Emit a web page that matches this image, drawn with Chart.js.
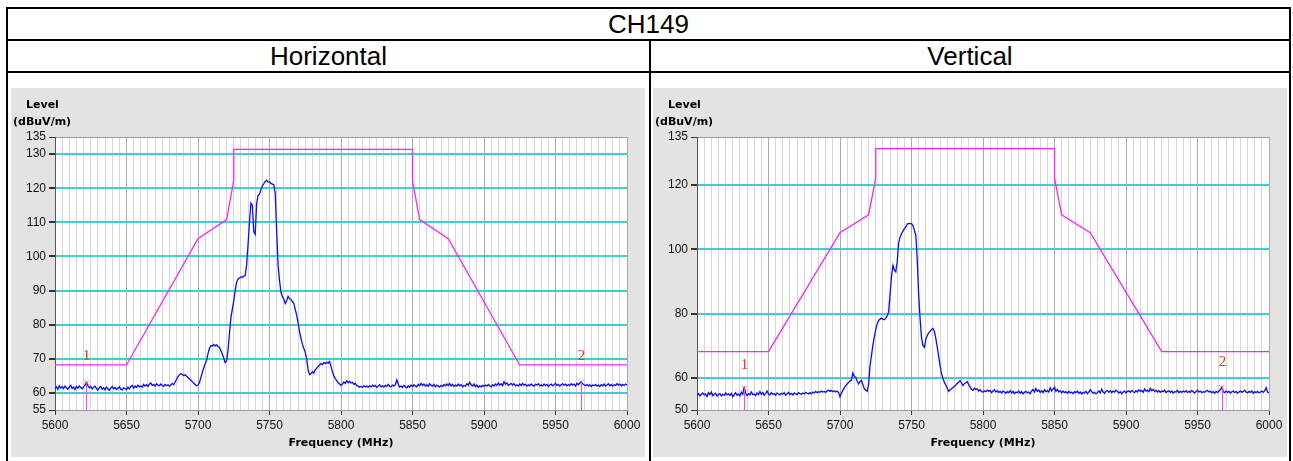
<!DOCTYPE html>
<html>
<head>
<meta charset="utf-8">
<script src="https://cdn.jsdelivr.net/npm/chart.js@4.4.1/dist/chart.umd.min.js"></script>
<style>
  body { margin: 0; background: #fff; width: 1293px; height: 461px; overflow: hidden; position: relative;
         font-family: "Liberation Sans", Arial, sans-serif; }
  .rule { position: absolute; background: #000; }
  .head { position: absolute; text-align: center; font-size: 26px; line-height: 30px; color: #000; }
  canvas { position: absolute; }
</style>
</head>
<body>
<div class="rule" style="left:6px;top:7px;width:1285px;height:2px"></div>
<div class="rule" style="left:6px;top:7px;width:2px;height:454px"></div>
<div class="rule" style="left:1289px;top:7px;width:2px;height:454px"></div>
<div class="rule" style="left:6px;top:39px;width:1285px;height:2px"></div>
<div class="rule" style="left:6px;top:71px;width:1285px;height:2px"></div>
<div class="rule" style="left:649px;top:39px;width:2px;height:422px"></div>
<div class="head" style="left:8px;top:9px;width:1281px">CH149</div>
<div class="head" style="left:8px;top:41px;width:641px">Horizontal</div>
<div class="head" style="left:651px;top:41px;width:638px">Vertical</div>
<canvas id="chartH" width="634" height="369" style="left:11px;top:88px"></canvas>
<canvas id="chartV" width="634" height="369" style="left:653px;top:88px"></canvas>
<script>
// Sweep: 5600 - 6000 MHz in 1 MHz steps
const sweepStart = 5600;
const sweepStep = 1;

// Measured level, horizontal antenna (dBuV/m)
const levelsH = [
  61.2, 61.8, 61.0, 62.1, 61.4, 61.9, 61.3, 62.0, 61.5, 61.1, 61.8, 62.2, 61.3, 61.7, 61.0, 61.9, 61.4, 62.0, 61.6, 61.2,
  61.8, 62.3, 63.0, 62.1, 61.5, 61.9, 61.2, 61.7, 62.0, 61.3, 60.8, 61.6, 61.9, 61.1, 61.5, 60.9, 61.7, 61.2, 60.8, 61.5,
  61.9, 61.2, 61.6, 61.0, 61.4, 61.8, 61.1, 60.9, 61.5, 61.3, 61.0, 61.7, 61.2, 61.9, 62.2, 61.4, 62.0, 61.6, 62.3, 61.8,
  62.1, 61.7, 62.5, 62.0, 62.4, 61.9, 62.6, 62.9, 62.2, 62.5, 62.0, 62.7, 62.3, 62.1, 62.6, 62.2, 61.9, 62.5, 62.1, 62.4,
  62.0, 62.3, 62.8, 62.4, 63.2, 64.0, 64.8, 65.3, 65.7, 65.4, 65.1, 65.3, 64.9, 64.5, 64.1, 63.8, 63.3, 62.9, 62.5, 62.1,
  62.3, 63.0, 64.5, 66.0, 67.3, 68.5, 69.6, 71.5, 73.0, 73.9, 73.7, 74.2, 73.8, 74.1, 73.6, 73.3, 72.4, 71.4, 70.2, 68.9,
  69.5, 72.5, 77.5, 82.0, 84.5, 87.0, 90.0, 92.4, 93.4, 93.7, 94.0, 93.9, 94.2, 94.4, 97.5, 103.5, 110.0, 115.6, 115.0, 107.2,
  106.5, 115.4, 117.9, 118.2, 119.5, 120.7, 121.3, 122.0, 122.3, 121.8, 121.9, 121.4, 121.2, 121.0, 118.5, 107.6, 97.5, 93.0, 89.5, 88.2,
  87.5, 86.2, 87.0, 88.3, 87.6, 87.4, 86.8, 86.3, 84.5, 82.8, 80.5, 78.0, 76.0, 74.3, 73.0, 71.9, 70.0, 66.8, 65.4, 65.6,
  66.2, 65.8, 66.8, 67.2, 67.8, 68.2, 68.6, 68.3, 68.9, 68.6, 69.0, 68.7, 69.2, 67.8, 66.2, 65.0, 64.2, 63.6, 63.0, 62.6,
  62.2, 62.6, 63.2, 62.8, 63.6, 63.0, 63.4, 62.9, 63.1, 62.5, 62.8, 62.2, 62.0, 61.7, 61.9, 61.6, 62.1, 61.8, 62.0, 61.7,
  62.1, 61.8, 62.3, 61.9, 62.2, 61.6, 62.0, 62.4, 61.8, 62.1, 61.7, 62.2, 61.9, 62.5, 62.0, 61.8, 62.3, 62.0, 62.4, 63.8,
  62.6, 61.7, 62.0, 61.6, 62.2, 61.8, 61.5, 62.1, 61.7, 62.3, 61.9, 62.4, 62.0, 61.8, 62.5, 62.1, 62.8, 62.2, 62.6, 62.0,
  62.4, 61.9, 62.7, 62.2, 62.0, 62.5, 61.8, 62.3, 62.0, 61.7, 62.2, 61.9, 62.4, 62.1, 62.6, 62.2, 62.8, 62.0, 62.5, 61.9,
  62.3, 62.0, 62.6, 62.1, 62.4, 61.8, 62.2, 62.0, 62.7, 62.3, 63.1, 62.4, 62.0, 62.6, 61.9, 62.3, 61.6, 62.1, 61.8, 62.2,
  61.9, 62.3, 62.0, 62.5, 62.1, 61.8, 62.4, 62.0, 62.6, 62.2, 62.9, 62.3, 62.7, 62.1, 63.3, 62.6, 62.9, 62.2, 62.5, 62.8,
  62.3, 62.7, 62.1, 62.4, 62.0, 62.6, 62.2, 62.8, 62.3, 62.5, 62.0, 62.4, 62.1, 62.6, 62.2, 62.0, 62.5, 62.3, 62.7, 62.1,
  62.4, 62.0, 62.6, 62.2, 62.5, 61.9, 62.3, 62.6, 62.1, 62.4, 62.8, 62.2, 62.5, 62.0, 62.4, 62.7, 62.3, 62.6, 62.1, 62.4,
  62.2, 62.7, 62.3, 62.6, 62.0, 62.8, 62.4, 62.9, 63.2, 62.7, 62.4, 62.1, 62.5, 62.0, 62.4, 61.9, 62.3, 62.1, 62.5, 62.0,
  62.3, 61.9, 62.4, 62.1, 62.6, 62.0, 62.3, 62.7, 62.1, 62.5, 62.0, 62.4, 62.2, 62.7, 62.3, 62.6, 62.1, 62.5, 62.2, 62.6,
  62.3
];

// Measured level, vertical antenna (dBuV/m)
const levelsV = [
  54.6, 55.1, 54.4, 54.9, 55.3, 54.7, 55.0, 54.2, 55.4, 54.8, 55.6, 54.5, 54.9, 55.2, 54.3, 54.8, 55.1, 54.4, 54.9, 54.6,
  55.3, 54.7, 55.0, 54.5, 55.2, 54.1, 54.8, 55.4, 54.6, 55.0, 54.4, 55.5, 54.9, 56.8, 55.2, 54.5, 55.1, 54.7, 55.6, 54.8,
  55.0, 54.5, 55.3, 54.8, 55.7, 54.9, 55.4, 54.6, 55.2, 55.9, 55.0, 54.7, 55.4, 54.9, 55.1, 54.6, 55.3, 55.0, 54.7, 55.2,
  54.9, 55.4, 54.6, 55.1, 55.5, 54.8, 55.2, 54.7, 55.3, 55.0, 54.8, 55.4, 55.1, 54.9, 55.3, 55.0, 55.5, 55.2, 55.0, 55.4,
  55.1, 55.6, 55.3, 55.8, 55.4, 55.7, 55.5, 55.9, 55.6, 55.8, 55.5, 55.9, 56.2, 55.8, 56.1, 55.7, 56.0, 55.6, 55.9, 55.4,
  54.1, 55.2, 56.1, 56.9, 57.6, 58.1, 58.6, 59.0, 59.3, 61.5, 60.4, 60.2, 59.0, 58.1, 58.8, 59.2, 57.9, 56.6, 56.2, 55.8,
  58.0, 63.8, 67.0, 70.2, 72.8, 75.0, 76.8, 77.9, 78.3, 78.6, 78.3, 78.1, 78.6, 79.3, 80.5, 86.0, 91.5, 95.0, 93.6, 93.0,
  96.0, 102.0, 103.8, 104.9, 105.7, 106.4, 107.0, 107.9, 108.1, 108.0, 108.0, 107.4, 106.0, 104.5, 97.0, 86.0, 78.5, 72.5, 70.0, 69.5,
  72.0, 73.2, 74.0, 74.5, 75.1, 75.4, 74.5, 72.3, 69.6, 66.6, 63.8, 61.3, 59.8, 58.6, 57.8, 56.8, 55.8, 56.3, 56.6, 56.9,
  57.4, 57.8, 58.3, 58.6, 59.2, 58.4, 57.6, 58.2, 58.5, 58.8, 57.9, 57.2, 56.4, 56.1, 56.8, 56.4, 56.6, 55.9, 56.3, 55.7,
  55.6, 56.0, 55.7, 56.2, 55.8, 56.1, 55.4, 55.9, 56.3, 55.6, 56.0, 55.5, 55.8, 55.3, 55.9, 55.6, 55.2, 55.7, 55.4, 56.0,
  55.3, 55.8, 55.1, 55.6, 55.4, 55.9, 55.2, 55.7, 55.0, 55.5, 55.8, 55.3, 55.6, 55.1, 55.9, 56.4, 55.6, 56.7, 55.8, 56.2,
  55.5, 56.0, 55.4, 56.3, 55.7, 56.1, 55.6, 56.9, 55.9, 56.5, 57.1, 55.8, 56.4, 55.6, 56.0, 55.3, 55.9, 55.4, 55.7, 55.2,
  55.8, 55.3, 55.6, 55.1, 55.7, 55.4, 55.9, 55.2, 55.6, 55.0, 55.5, 55.3, 55.8, 55.1, 55.6, 56.3, 55.7, 55.2, 55.5, 55.0,
  55.4, 55.9, 55.3, 56.5, 55.6, 55.2, 55.8, 56.1, 55.5, 56.0, 55.4, 55.9, 55.6, 56.2, 55.8, 55.3, 55.7, 55.1, 55.6, 55.9,
  55.3, 55.8, 56.0, 55.5, 56.1, 55.7, 55.4, 56.0, 55.6, 56.3, 55.8, 56.1, 55.5, 56.6, 55.9, 56.2, 55.7, 56.8, 56.0, 56.4,
  55.8, 56.1, 55.6, 56.0, 55.5, 55.9, 55.7, 56.2, 55.4, 55.8, 56.0, 55.5, 55.9, 55.3, 55.7, 55.6, 56.1, 55.4, 55.8, 55.5,
  55.9, 55.6, 56.0, 55.4, 55.8, 55.5, 56.1, 55.7, 55.3, 55.8, 56.2, 55.6, 55.9, 55.4, 55.7, 55.5, 55.9, 56.1, 55.6, 55.8,
  55.4, 55.7, 55.2, 55.8, 55.5, 55.9, 56.3, 57.0, 55.7, 55.4, 55.9, 55.5, 55.8, 55.3, 55.7, 55.9, 55.4, 55.8, 55.2, 55.6,
  55.9, 55.5, 55.8, 56.2, 55.6, 55.3, 55.8, 55.5, 55.9, 55.2, 55.7, 55.4, 55.8, 55.3, 55.6, 55.9, 55.5, 56.0, 57.0, 55.6,
  55.3
];

// Emission mask corner points
const limitFreqs  = [5600, 5650, 5700, 5720, 5725, 5725, 5850, 5850, 5855, 5875, 5925, 6000];
const limitLevels = [68.2, 68.2, 105.2, 110.8, 122.2, 131.4, 131.4, 122.2, 110.8, 105.2, 68.2, 68.2];

// Markers (frequency in MHz) and where their numbers sit (dBuV/m)
const markerNames = ['1', '2'];
const markerFreqsH = [5622, 5968];
const markerFreqsV = [5633, 5967];
const markerTextLevelsH = [70.8, 70.9];
const markerTextLevelsV = [64.0, 65.0];

// Axis ticks
const freqTickLabels = ['5600', '5650', '5700', '5750', '5800', '5850', '5900', '5950', '6000'];
const levelTicksH = [55, 60, 70, 80, 90, 100, 110, 120, 130, 135];
const levelTicksV = [50, 60, 80, 100, 120, 135];

const FONT_UI = '"DejaVu Sans", Verdana, sans-serif';
const FONT_TICK = '"Liberation Sans", Arial, sans-serif';
const CYAN = '#3fcfcf';

function overlay(markerFreqs, levels, textLevels) {
  return {
    id: 'overlay',
    beforeDraw(chart) {
      const { ctx, chartArea: a } = chart;
      ctx.save();
      ctx.fillStyle = '#e3e3e3';
      ctx.fillRect(0, 0, chart.width, chart.height);
      ctx.fillStyle = '#ffffff';
      ctx.fillRect(a.left, a.top, a.right - a.left, a.bottom - a.top);
      ctx.fillStyle = '#000';
      ctx.font = 'bold 11px ' + FONT_UI;
      ctx.textAlign = 'left';
      ctx.textBaseline = 'middle';
      ctx.fillText('Level', 15, 17);
      ctx.fillText('(dBuV/m)', 2, 34);
      ctx.restore();
    },
    afterDatasetsDraw(chart) {
      const { ctx, chartArea: a, scales } = chart;
      ctx.save();
      markerFreqs.forEach((f, i) => {
        const px = Math.round(scales.x.getPixelForValue(f)) + 0.5;
        const lv = levels[Math.round((f - sweepStart) / sweepStep)];
        ctx.strokeStyle = '#ff40ff';
        ctx.lineWidth = 1;
        ctx.beginPath();
        ctx.moveTo(px, scales.y.getPixelForValue(lv));
        ctx.lineTo(px, a.bottom);
        ctx.stroke();
        ctx.fillStyle = '#ff2222';
        ctx.font = '15px "Liberation Serif", "Times New Roman", serif';
        ctx.textAlign = 'center';
        ctx.textBaseline = 'middle';
        ctx.fillText(markerNames[i], px, scales.y.getPixelForValue(textLevels[i]));
      });
      ctx.restore();
    }
  };
}

function spectrumChart(canvasId, levels, levelTicks, markerFreqs, textLevels) {
  const trace = levels.map((v, i) => ({ x: sweepStart + i * sweepStep, y: v }));
  const mask = limitFreqs.map((f, i) => ({ x: f, y: limitLevels[i] }));
  const marks = markerFreqs.map(f => ({ x: f, y: levels[Math.round((f - sweepStart) / sweepStep)] }));
  const yMin = levelTicks[0];
  const yMax = levelTicks[levelTicks.length - 1];

  return new Chart(document.getElementById(canvasId), {
    type: 'line',
    data: {
      datasets: [
        { data: mask, borderColor: '#ff22ff', borderWidth: 1.3, pointRadius: 0, tension: 0 },
        { data: trace, borderColor: '#0a0aff', borderWidth: 1.3, pointRadius: 0, tension: 0 },
        { data: marks, showLine: false, pointStyle: 'crossRot', pointRadius: 3.5,
          borderColor: '#ff66dd', borderWidth: 1, backgroundColor: '#ff66dd' }
      ]
    },
    options: {
      responsive: false,
      devicePixelRatio: 1,
      animation: false,
      events: [],
      layout: { padding: { top: 49, right: 18, left: 0, bottom: 0 } },
      plugins: { legend: { display: false }, tooltip: { enabled: false } },
      scales: {
        x: {
          type: 'linear',
          min: 5600,
          max: 6000,
          afterBuildTicks(scale) {
            const t = [];
            for (let f = scale.min; f <= scale.max; f += 5) t.push({ value: f });
            scale.ticks = t;
          },
          afterFit(scale) { scale.height = 47; },
          ticks: {
            autoSkip: false,
            maxRotation: 0,
            minRotation: 0,
            padding: 3,
            color: '#111',
            font: { family: FONT_TICK, size: 12 },
            callback(value) {
              const s = String(value);
              return freqTickLabels.includes(s) ? s : '';
            }
          },
          grid: {
            color: c => (c.tick && c.tick.value % 50 === 0) ? '#aaaaaa' : '#d6d6d6',
            tickColor: c => (c.tick && c.tick.value % 50 === 0) ? '#333' : 'rgba(0,0,0,0)',
            tickLength: 5,
            lineWidth: 1
          },
          border: { display: true, color: '#9a9a9a', width: 1 },
          title: {
            display: true,
            text: 'Frequency (MHz)',
            color: '#000',
            font: { family: FONT_UI, size: 11, weight: 'bold' },
            padding: { top: 0, bottom: 7 }
          }
        },
        y: {
          type: 'linear',
          min: yMin,
          max: yMax,
          afterBuildTicks(scale) { scale.ticks = levelTicks.map(v => ({ value: v })); },
          afterFit(scale) { scale.width = 44; },
          ticks: {
            autoSkip: false,
            padding: 3,
            color: '#111',
            font: { family: FONT_TICK, size: 12 },
            callback: value => String(value)
          },
          grid: {
            color: c => {
              const v = c.tick && c.tick.value;
              if (v === yMax) return '#9a9a9a';
              if (v === yMin) return 'rgba(0,0,0,0)';
              return CYAN;
            },
            lineWidth: c => {
              const v = c.tick && c.tick.value;
              return (v === yMax || v === yMin) ? 1 : 2;
            },
            tickColor: '#333',
            tickLength: 6
          },
          border: { display: true, color: '#555', width: 1 }
        }
      }
    },
    plugins: [overlay(markerFreqs, levels, textLevels)]
  });
}

spectrumChart('chartH', levelsH, levelTicksH, markerFreqsH, markerTextLevelsH);
spectrumChart('chartV', levelsV, levelTicksV, markerFreqsV, markerTextLevelsV);
</script>
</body>
</html>
